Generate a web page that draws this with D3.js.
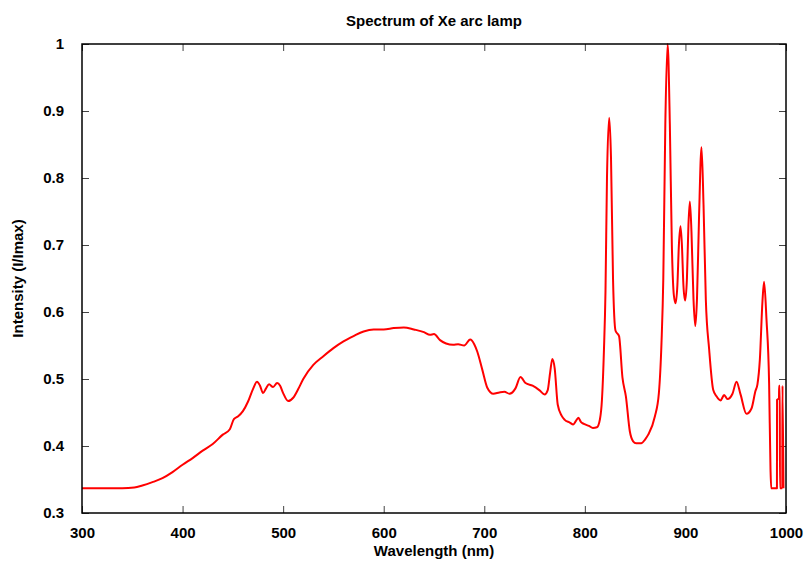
<!DOCTYPE html>
<html>
<head>
<meta charset="utf-8">
<script src="https://cdn.jsdelivr.net/npm/d3@7"></script>
<style>
  body { margin: 0; background: #fff; }
  text { font-family: "Liberation Sans", Arial, sans-serif; font-weight: bold; }
</style>
</head>
<body>
<svg id="chart"></svg>
<script>
// spectrum (nm, I/Imax)
var wavelength = [300, 320, 340, 352, 360, 370, 380, 390, 400, 410, 420, 430, 440, 447, 451, 455, 460, 465, 470, 474,
  477, 480, 483, 486, 490, 494, 497, 500, 505, 510, 515, 520, 530, 540, 550, 560, 570, 580, 590, 600,
  610, 620, 630, 640, 646, 650, 656, 662, 669, 674, 680, 686, 690, 693, 698, 703, 709, 715, 720, 725,
  731, 736, 741, 748, 755, 760, 763, 765.5, 767.7, 770, 773, 777, 780, 785, 788.5, 791, 793.6, 796, 799, 804,
  808, 812, 815, 817, 819, 820.5, 822, 824.2, 826, 828, 830.5, 834, 837.4, 840.8, 844.7, 848, 851, 856, 860, 863,
  869.6, 873.6, 876.2, 878, 880, 882.3, 884.5, 886.5, 888.5, 890.2, 892, 893.5, 895.1, 896.5, 898, 899.7, 901.5, 903, 904.4, 906,
  908, 909.8, 911.5, 913.5, 916, 918, 920.3, 923.6, 927.6, 931, 934.9, 938.5, 941.8, 946.8, 950.8, 954.8, 960.7, 965.7, 969.6, 971.6,
  974, 976.6, 978.2, 980.6, 983.2, 984.6, 985.3, 991, 991.1, 993, 993.2, 993.8, 994, 996.3, 996.5, 997.5];
var intensity = [0.337, 0.337, 0.337, 0.338, 0.341, 0.346, 0.352, 0.361, 0.372, 0.382, 0.393, 0.403, 0.417, 0.425, 0.440, 0.444, 0.452, 0.466, 0.485, 0.496,
  0.490, 0.479, 0.486, 0.492, 0.488, 0.494, 0.490, 0.479, 0.467, 0.472, 0.485, 0.500, 0.521, 0.534, 0.546, 0.556, 0.564, 0.571, 0.574, 0.574,
  0.576, 0.577, 0.574, 0.570, 0.566, 0.567, 0.558, 0.553, 0.551, 0.552, 0.550, 0.559, 0.552, 0.541, 0.514, 0.487, 0.478, 0.480, 0.481, 0.478,
  0.486, 0.503, 0.494, 0.490, 0.483, 0.477, 0.483, 0.510, 0.530, 0.516, 0.462, 0.445, 0.439, 0.435, 0.432, 0.437, 0.442, 0.436, 0.433, 0.430,
  0.427, 0.428, 0.440, 0.469, 0.544, 0.630, 0.800, 0.890, 0.830, 0.650, 0.572, 0.564, 0.502, 0.474, 0.422, 0.407, 0.404, 0.404, 0.410, 0.417,
  0.444, 0.479, 0.554, 0.650, 0.880, 1.000, 0.880, 0.700, 0.625, 0.613, 0.640, 0.700, 0.728, 0.700, 0.640, 0.617, 0.650, 0.730, 0.765, 0.720,
  0.620, 0.579, 0.620, 0.740, 0.846, 0.760, 0.618, 0.544, 0.484, 0.474, 0.468, 0.476, 0.470, 0.478, 0.496, 0.477, 0.448, 0.456, 0.482, 0.492,
  0.529, 0.616, 0.645, 0.589, 0.494, 0.365, 0.337, 0.337, 0.469, 0.471, 0.490, 0.490, 0.337, 0.337, 0.490, 0.337];

var xTicks = [300, 400, 500, 600, 700, 800, 900, 1000];
var yTicks = [0.3, 0.4, 0.5, 0.6, 0.7, 0.8, 0.9, 1];

var width = 806, height = 561;
var margin = {top: 44, right: 20, bottom: 48, left: 82};

var svg = d3.select("#chart")
  .attr("width", width)
  .attr("height", height);

var x = d3.scaleLinear()
  .domain([300, 1000])
  .range([margin.left, width - margin.right]);

var y = d3.scaleLinear()
  .domain([0.3, 1])
  .range([height - margin.bottom, margin.top]);

var points = wavelength.map(function(w, i) { return [w, intensity[i]]; });

// inward ticks on all four sides, gnuplot style
var tickLen = 7;
svg.append("g")
    .attr("transform", `translate(0,${height - margin.bottom})`)
    .call(d3.axisBottom(x).tickValues(xTicks).tickSize(-tickLen).tickPadding(14).tickFormat(d3.format("d")))
    .call(g => g.select(".domain").remove())
    .call(g => g.selectAll("text").attr("font-size", 15).attr("fill", "#000"));

svg.append("g")
    .attr("transform", `translate(0,${margin.top})`)
    .call(d3.axisTop(x).tickValues(xTicks).tickSize(-tickLen).tickFormat(""))
    .call(g => g.select(".domain").remove());

svg.append("g")
    .attr("transform", `translate(${margin.left},0)`)
    .call(d3.axisLeft(y).tickValues(yTicks).tickSize(-tickLen).tickPadding(18).tickFormat(d => d == 1 ? "1" : d3.format(".1f")(d)))
    .call(g => g.select(".domain").remove())
    .call(g => g.selectAll("text").attr("font-size", 15).attr("fill", "#000"));

svg.append("g")
    .attr("transform", `translate(${width - margin.right},0)`)
    .call(d3.axisRight(y).tickValues(yTicks).tickSize(-tickLen).tickFormat(""))
    .call(g => g.select(".domain").remove());

svg.selectAll(".tick line").attr("stroke", "#444");

// the curve
var line = d3.line()
  .x(d => x(d[0]))
  .y(d => y(d[1]))
  .curve(d3.curveMonotoneX);

svg.append("path")
  .datum(points)
  .attr("fill", "none")
  .attr("stroke", "#ff0000")
  .attr("stroke-width", 2)
  .attr("stroke-linejoin", "round")
  .attr("d", line);

// frame
svg.append("rect")
  .attr("x", margin.left)
  .attr("y", margin.top)
  .attr("width", width - margin.left - margin.right)
  .attr("height", height - margin.top - margin.bottom)
  .attr("fill", "none")
  .attr("stroke", "#000")
  .attr("stroke-width", 1.5);

// titles
svg.append("text")
  .attr("x", (margin.left + width - margin.right) / 2)
  .attr("y", 26)
  .attr("text-anchor", "middle")
  .attr("font-size", 15)
  .text("Spectrum of Xe arc lamp");

svg.append("text")
  .attr("x", (margin.left + width - margin.right) / 2)
  .attr("y", 556)
  .attr("text-anchor", "middle")
  .attr("font-size", 15)
  .text("Wavelength (nm)");

svg.append("text")
  .attr("transform", `translate(23,${(margin.top + height - margin.bottom) / 2}) rotate(-90)`)
  .attr("text-anchor", "middle")
  .attr("font-size", 15)
  .text("Intensity (I/Imax)");
</script>
</body>
</html>
